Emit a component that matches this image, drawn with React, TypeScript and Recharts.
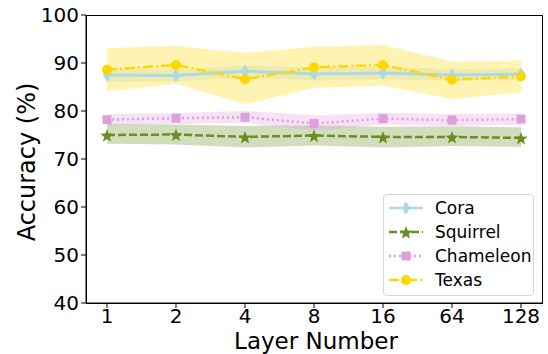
import React from 'react'
import { ComposedChart, Line, Area, XAxis, YAxis } from 'recharts'

const layers = ['1', '2', '4', '8', '16', '64', '128']

const cora = [87.5, 87.4, 88.3, 87.7, 87.9, 87.5, 87.7]
const coraLo = [86.1, 86.2, 87.0, 86.4, 86.6, 86.3, 86.5]
const coraHi = [88.8, 88.6, 89.5, 89.0, 89.2, 88.7, 88.9]

const squirrel = [75.0, 75.1, 74.6, 74.9, 74.6, 74.6, 74.4]
const squirrelLo = [73.2, 73.0, 72.4, 72.8, 72.4, 72.7, 72.5]
const squirrelHi = [77.3, 77.2, 76.9, 77.0, 76.7, 76.8, 76.6]

const chameleon = [78.2, 78.5, 78.7, 77.4, 78.4, 78.1, 78.3]
const chameleonLo = [77.0, 77.3, 77.5, 76.0, 77.2, 76.9, 77.1]
const chameleonHi = [79.4, 79.6, 80.0, 79.1, 79.6, 79.4, 79.5]

const texas = [88.6, 89.6, 86.6, 89.1, 89.6, 86.5, 87.2]
const texasLo = [84.1, 85.7, 81.4, 84.8, 85.3, 82.5, 83.9]
const texasHi = [93.1, 93.6, 92.1, 93.4, 93.8, 90.3, 90.5]

const yTicks = [40, 50, 60, 70, 80, 90, 100]

const data = layers.map((layer, i) => ({
    layer,
    cora: cora[i],
    coraBand: [coraLo[i], coraHi[i]],
    squirrel: squirrel[i],
    squirrelBand: [squirrelLo[i], squirrelHi[i]],
    chameleon: chameleon[i],
    chameleonBand: [chameleonLo[i], chameleonHi[i]],
    texas: texas[i],
    texasBand: [texasLo[i], texasHi[i]],
}))

const FONT = '"DejaVu Sans", sans-serif'

const C_CORA = '#ADD8E6'
const C_SQUIRREL = '#6B8E23'
const C_CHAM = '#DDA0DD'
const C_TEXAS = '#FFD700'

function starPath(cx: number, cy: number, r: number) {
    const pts: string[] = []
    for (let k = 0; k < 10; k++) {
        const rad = k % 2 === 0 ? r : r * 0.42
        const a = -Math.PI / 2 + (k * Math.PI) / 5
        pts.push(`${cx + rad * Math.cos(a)},${cy + rad * Math.sin(a)}`)
    }
    return 'M' + pts.join('L') + 'Z'
}

function Marker({ kind, cx, cy, color }: { kind: string; cx: number; cy: number; color: string }) {
    if (kind === 'diamond') {
        return <path d={`M${cx},${cy - 7}L${cx + 4},${cy}L${cx},${cy + 7}L${cx - 4},${cy}Z`} fill={color} />
    }
    if (kind === 'star') {
        return <path d={starPath(cx, cy + 1, 7)} fill={color} />
    }
    if (kind === 'square') {
        return <rect x={cx - 4.5} y={cy - 4.5} width={9} height={9} fill={color} />
    }
    return <circle cx={cx} cy={cy} r={5} fill={color} />
}

const dot = (kind: string, color: string) => (props: any) => (
    <Marker key={props.index} kind={kind} cx={props.cx} cy={props.cy} color={color} />
)

const legendItems = [
    { name: 'Cora', color: C_CORA, kind: 'diamond', dash: undefined },
    { name: 'Squirrel', color: C_SQUIRREL, kind: 'star', dash: '8 3' },
    { name: 'Chameleon', color: C_CHAM, kind: 'square', dash: '2 3' },
    { name: 'Texas', color: C_TEXAS, kind: 'circle', dash: '10 3 2 3' },
]

export default function App() {
    return (
        <div style={{ position: 'fixed', left: 0, top: 0, width: 548, height: 354, background: '#fff', fontFamily: FONT }}>
            <ComposedChart width={548} height={354} data={data} margin={{ top: 15, right: 6, left: 0, bottom: 0 }}>
                <XAxis
                    dataKey="layer"
                    scale="point"
                    padding={{ left: 21, right: 21 }}
                    height={51}
                    tickSize={5}
                    stroke="#000"
                    tick={{ fill: '#000', fontSize: 20, fontFamily: FONT, dy: -1 }}
                    tickLine={{ stroke: '#000' }}
                />
                <YAxis
                    domain={[40, 100]}
                    ticks={yTicks}
                    width={86}
                    tickSize={5}
                    stroke="#000"
                    tick={{ fill: '#000', fontSize: 20, fontFamily: FONT }}
                    tickLine={{ stroke: '#000' }}
                />
                <Area dataKey="coraBand" stroke="none" fill={C_CORA} fillOpacity={0.3} isAnimationActive={false} activeDot={false} />
                <Area dataKey="squirrelBand" stroke="none" fill={C_SQUIRREL} fillOpacity={0.3} isAnimationActive={false} activeDot={false} />
                <Area dataKey="chameleonBand" stroke="none" fill={C_CHAM} fillOpacity={0.3} isAnimationActive={false} activeDot={false} />
                <Area dataKey="texasBand" stroke="none" fill={C_TEXAS} fillOpacity={0.3} isAnimationActive={false} activeDot={false} />
                <Line dataKey="cora" stroke={C_CORA} strokeWidth={3} dot={dot('diamond', C_CORA)} isAnimationActive={false} />
                <Line dataKey="squirrel" stroke={C_SQUIRREL} strokeWidth={2.5} strokeDasharray="8 3" dot={dot('star', C_SQUIRREL)} isAnimationActive={false} />
                <Line dataKey="chameleon" stroke={C_CHAM} strokeWidth={2.5} strokeDasharray="2 3" dot={dot('square', C_CHAM)} isAnimationActive={false} />
                <Line dataKey="texas" stroke={C_TEXAS} strokeWidth={2.5} strokeDasharray="10 3 2 3" dot={dot('circle', C_TEXAS)} isAnimationActive={false} />
            </ComposedChart>
            <div style={{ position: 'absolute', left: 86, top: 15, width: 457, height: 289, border: '1px solid #000', boxSizing: 'border-box', pointerEvents: 'none' }} />
            <div
                style={{
                    position: 'absolute',
                    left: 27,
                    top: 162,
                    transform: 'translate(-50%, -50%) rotate(-90deg)',
                    fontSize: 24,
                    lineHeight: 1,
                    whiteSpace: 'nowrap',
                    color: '#000',
                }}
            >
                Accuracy (%)
            </div>
            <div
                style={{
                    position: 'absolute',
                    left: 316,
                    top: 341,
                    transform: 'translate(-50%, -50%)',
                    fontSize: 23,
                    lineHeight: 1,
                    whiteSpace: 'nowrap',
                    color: '#000',
                }}
            >
                Layer Number
            </div>
            <div
                style={{
                    position: 'absolute',
                    left: 383,
                    top: 194,
                    width: 151,
                    height: 102,
                    border: '1px solid #d6d6d6',
                    borderRadius: 4,
                    boxSizing: 'border-box',
                    background: 'rgba(255,255,255,0.8)',
                }}
            >
                {legendItems.map((item, i) => (
                    <div key={item.name} style={{ position: 'absolute', left: 4, top: 1 + i * 24, height: 24, display: 'flex', alignItems: 'center' }}>
                        <svg width={36} height={20}>
                            <line x1={1} y1={10} x2={35} y2={10} stroke={item.color} strokeWidth={2.5} strokeDasharray={item.dash} />
                            <Marker kind={item.kind} cx={18} cy={10} color={item.color} />
                        </svg>
                        <span style={{ marginLeft: 11, fontSize: 17, color: '#000' }}>{item.name}</span>
                    </div>
                ))}
            </div>
        </div>
    )
}
